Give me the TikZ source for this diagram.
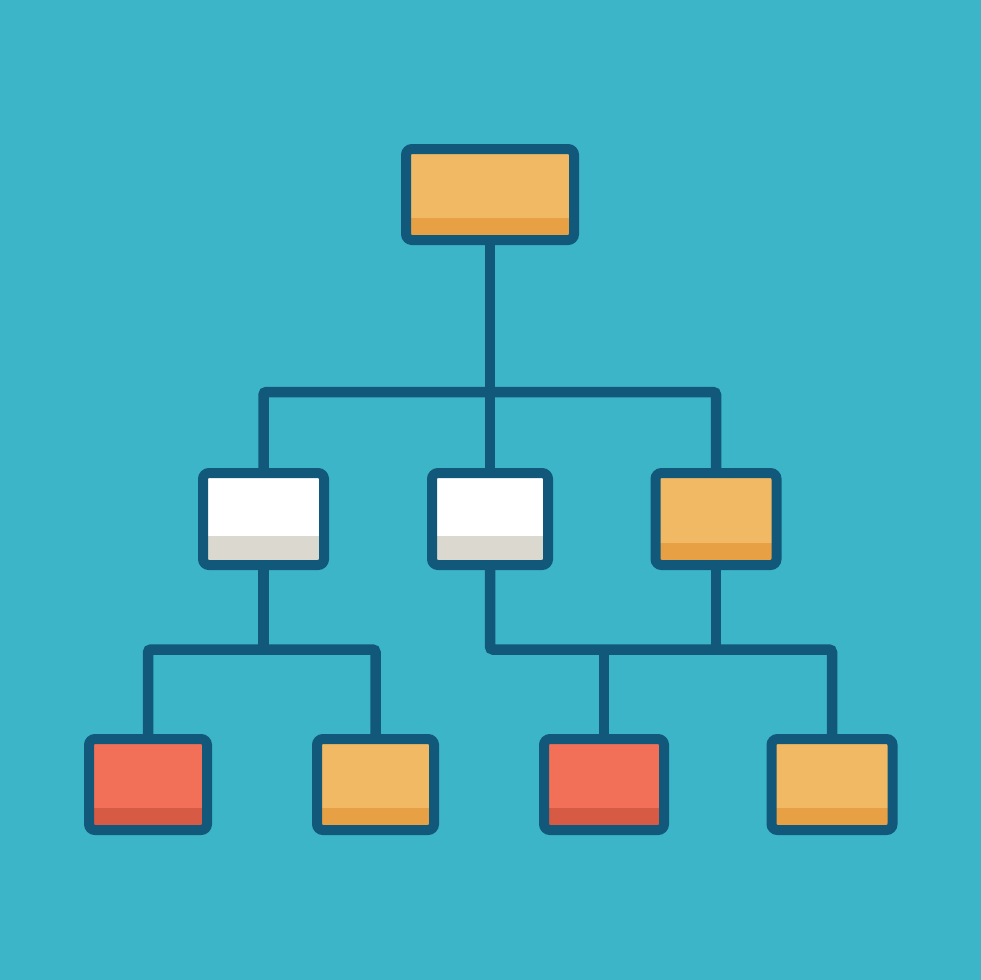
\documentclass[tikz,border=0pt]{standalone}
\definecolor{bgc}{HTML}{3DB5C9}
\definecolor{ink}{HTML}{12587A}
\definecolor{orangeF}{HTML}{F2B964}
\definecolor{orangeB}{HTML}{E8A045}
\definecolor{whiteF}{HTML}{FFFFFF}
\definecolor{whiteB}{HTML}{DAD8CF}
\definecolor{redF}{HTML}{F26F58}
\definecolor{redB}{HTML}{D65A44}
\pgfdeclarelayer{bg}
\pgfdeclarelayer{lines}
\pgfsetlayers{bg,lines,main}
\tikzset{
  box/.style n args={4}{draw=ink, line width=10pt, rounded corners=6pt,
    fill=#1, minimum width=#3, minimum height=91pt, inner sep=0pt, outer sep=0pt,
    path picture={\fill[#2] ([yshift=-2pt]path picture bounding box.south west)
      rectangle ([yshift=#4]path picture bounding box.south east);}},
  obox/.style={box={orangeF}{orangeB}{#1}{22pt}},
  wbox/.style={box={whiteF}{whiteB}{#1}{29pt}},
  rbox/.style={box={redF}{redB}{#1}{22pt}},
  conn/.style={draw=ink, line width=10.5pt, rounded corners=3pt, line cap=butt}
}
\begin{document}
\begin{tikzpicture}[x=1pt,y=-1pt]
\useasboundingbox (0,0) rectangle (980,980);
\begin{pgfonlayer}{bg}
\fill[bgc] (-10,-10) rectangle (990,990);
\end{pgfonlayer}
% top
\node[obox=168pt] (top) at (490,194.5) {};
% middle row
\node[wbox=121pt, minimum height=92pt] (m1) at (263.5,519) {};
\node[wbox=116pt, minimum height=92pt] (m2) at (490,519) {};
\node[obox=121pt, minimum height=92pt] (m3) at (716,519) {};
% bottom row
\node[rbox=118pt] (b1) at (148,784.5) {};
\node[obox=117pt] (b2) at (375.5,784.5) {};
\node[rbox=120pt] (b3) at (604,784.5) {};
\node[obox=121pt] (b4) at (832,784.5) {};
% junctions
\coordinate (h1) at (490,392);
\coordinate (h2) at (263.5,649.5);
\coordinate (h3) at (490,649.5);
\begin{pgfonlayer}{lines}
\draw[conn] (top.south) -- (m2.north);
\draw[conn] (m1.north) |- (h1) -| (m3.north);
\draw[conn] (m1.south) -- (h2);
\draw[conn] (b1.north) |- (h2) -| (b2.north);
\draw[conn] (m2.south) -- (h3) -| (b4.north);
\draw[conn] (m3.south) -- (m3.south |- h3);
\draw[conn] (b3.north) -- (b3.north |- h3);
\end{pgfonlayer}
\end{tikzpicture}
\end{document}
